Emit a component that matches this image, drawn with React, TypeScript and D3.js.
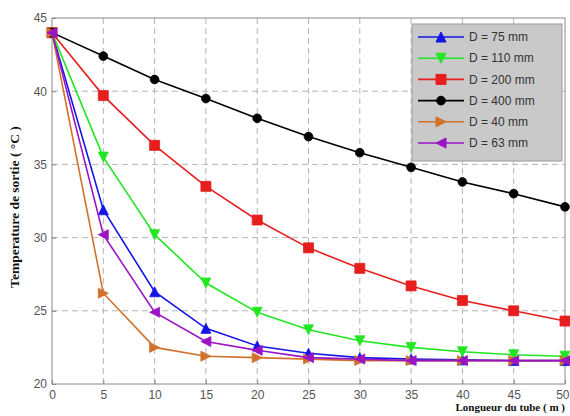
import React, { useEffect, useRef } from 'react'
import * as d3 from 'd3'

// tube length (m)
const lengths = [0, 5, 10, 15, 20, 25, 30, 35, 40, 45, 50]

// outlet temperature (°C) for each diameter
const d75 = [44, 31.9, 26.3, 23.8, 22.6, 22.1, 21.8, 21.7, 21.65, 21.6, 21.6]
const d110 = [44, 35.5, 30.2, 26.9, 24.9, 23.7, 22.95, 22.5, 22.2, 22.0, 21.9]
const d200 = [44, 39.7, 36.3, 33.5, 31.2, 29.3, 27.9, 26.7, 25.7, 25.0, 24.3]
const d400 = [44, 42.4, 40.8, 39.5, 38.15, 36.9, 35.8, 34.8, 33.8, 33.0, 32.1]
const d40 = [44, 26.2, 22.5, 21.9, 21.8, 21.7, 21.6, 21.6, 21.6, 21.6, 21.6]
const d63 = [44, 30.2, 24.9, 22.9, 22.3, 21.8, 21.7, 21.6, 21.6, 21.6, 21.6]

const xTicks = [0, 5, 10, 15, 20, 25, 30, 35, 40, 45, 50]
const yTicks = [20, 25, 30, 35, 40, 45]

const seriesList = [
  { label: 'D = 75 mm', values: d75, color: '#1414e6', marker: 'up' },
  { label: 'D = 110 mm', values: d110, color: '#22e622', marker: 'down' },
  { label: 'D = 200 mm', values: d200, color: '#e61e1e', marker: 'square' },
  { label: 'D = 400 mm', values: d400, color: '#000000', marker: 'circle' },
  { label: 'D = 40 mm', values: d40, color: '#d2712a', marker: 'right' },
  { label: 'D = 63 mm', values: d63, color: '#9a14c4', marker: 'left' }
]

function markerPath (kind: string, s: number) {
  const h = s / 2
  switch (kind) {
    case 'up': return `M0,${-h}L${h},${h}L${-h},${h}Z`
    case 'down': return `M0,${h}L${h},${-h}L${-h},${-h}Z`
    case 'right': return `M${h},0L${-h},${-h}L${-h},${h}Z`
    case 'left': return `M${-h},0L${h},${-h}L${h},${h}Z`
    case 'square': return `M${-h},${-h}H${h}V${h}H${-h}Z`
    default: return d3.symbol(d3.symbolCircle, s * s * 0.6)() as string
  }
}

const App = () => {
  const ref = useRef<SVGSVGElement>(null)

  useEffect(() => {
    const width = 570
    const height = 416
    const margin = { top: 18, right: 5, bottom: 32, left: 52 }
    const w = width - margin.left - margin.right
    const h = height - margin.top - margin.bottom

    const svg = d3.select(ref.current)
    svg.selectAll('*').remove()

    const x = d3.scaleLinear().domain([0, 50]).range([0, w])
    const y = d3.scaleLinear().domain([20, 45]).range([h, 0])

    const g = svg.append('g')
      .attr('transform', 'translate(' + margin.left + ',' + margin.top + ')')

    // dashed grid
    g.selectAll('.vgrid').data(xTicks.slice(1, -1)).enter().append('line')
      .attr('x1', d => x(d)).attr('x2', d => x(d))
      .attr('y1', 0).attr('y2', h)
      .attr('stroke', '#b4b4b4').attr('stroke-dasharray', '6,4')
    g.selectAll('.hgrid').data(yTicks.slice(1, -1)).enter().append('line')
      .attr('y1', d => y(d)).attr('y2', d => y(d))
      .attr('x1', 0).attr('x2', w)
      .attr('stroke', '#b4b4b4').attr('stroke-dasharray', '6,4')

    // frame
    g.append('rect')
      .attr('width', w).attr('height', h)
      .attr('fill', 'none').attr('stroke', '#8a8a8a')

    // axes
    const xAxis = d3.axisBottom(x).tickValues(xTicks).tickSize(-4).tickPadding(6)
    const yAxis = d3.axisLeft(y).tickValues(yTicks).tickSize(-4).tickPadding(5)

    const gx = g.append('g').attr('transform', 'translate(0,' + h + ')').call(xAxis)
    const gy = g.append('g').call(yAxis)
    for (const ax of [gx, gy]) {
      ax.select('.domain').remove()
      ax.selectAll('line').attr('stroke', '#8a8a8a')
      ax.selectAll('text')
        .attr('fill', '#555')
        .style('font-family', 'Arial, "Liberation Sans", sans-serif')
        .style('font-size', '12px')
    }
    // last label sits at the page edge, keep it inside
    gx.selectAll('text').filter(d => d === 50)
      .attr('text-anchor', 'end').attr('dx', 4)

    // lines and markers
    const line = d3.line<number>()
      .x((d, i) => x(lengths[i]))
      .y(d => y(d))

    seriesList.forEach(s => {
      g.append('path')
        .datum(s.values)
        .attr('d', line)
        .attr('fill', 'none')
        .attr('stroke', s.color)
        .attr('stroke-width', 1.6)

      g.selectAll(null).data(s.values).enter().append('path')
        .attr('transform', (d, i) => 'translate(' + x(lengths[i]) + ',' + y(d) + ')')
        .attr('d', markerPath(s.marker, 10))
        .attr('fill', s.color)
        .attr('stroke', s.color)
        .attr('stroke-width', 0.8)
    })

    // legend
    const lg = svg.append('g').attr('transform', 'translate(412,24)')
    lg.append('rect')
      .attr('width', 150).attr('height', 137)
      .attr('fill', '#c9c9c9').attr('stroke', '#9a9a9a')

    seriesList.forEach((s, i) => {
      const ly = 13 + i * 21.2
      lg.append('line')
        .attr('x1', 6).attr('x2', 52)
        .attr('y1', ly).attr('y2', ly)
        .attr('stroke', s.color).attr('stroke-width', 1.6)
      lg.append('path')
        .attr('transform', 'translate(29,' + ly + ')')
        .attr('d', markerPath(s.marker, 10))
        .attr('fill', s.color).attr('stroke', s.color)
      lg.append('text')
        .attr('x', 57).attr('y', ly).attr('dy', '0.35em')
        .attr('fill', '#333')
        .style('font-family', 'Arial, "Liberation Sans", sans-serif')
        .style('font-size', '12px')
        .text(s.label)
    })

    // axis titles
    svg.append('text')
      .attr('x', 565).attr('y', 411)
      .attr('text-anchor', 'end')
      .style('font-family', '"Liberation Serif", "Times New Roman", serif')
      .style('font-weight', 'bold')
      .style('font-size', '11px')
      .attr('fill', '#111')
      .text('Longueur du tube ( m )')

    svg.append('text')
      .attr('transform', 'translate(19,207) rotate(-90)')
      .attr('text-anchor', 'middle')
      .style('font-family', '"Liberation Serif", "Times New Roman", serif')
      .style('font-weight', 'bold')
      .style('font-size', '13.5px')
      .attr('fill', '#111')
      .text('Temperature de sortie ( °C )')
  }, [])

  return (
    <svg
      ref={ref}
      width={570}
      height={416}
      style={{ position: 'absolute', left: 0, top: 0, background: '#fff' }}
    />
  )
}

export default App
